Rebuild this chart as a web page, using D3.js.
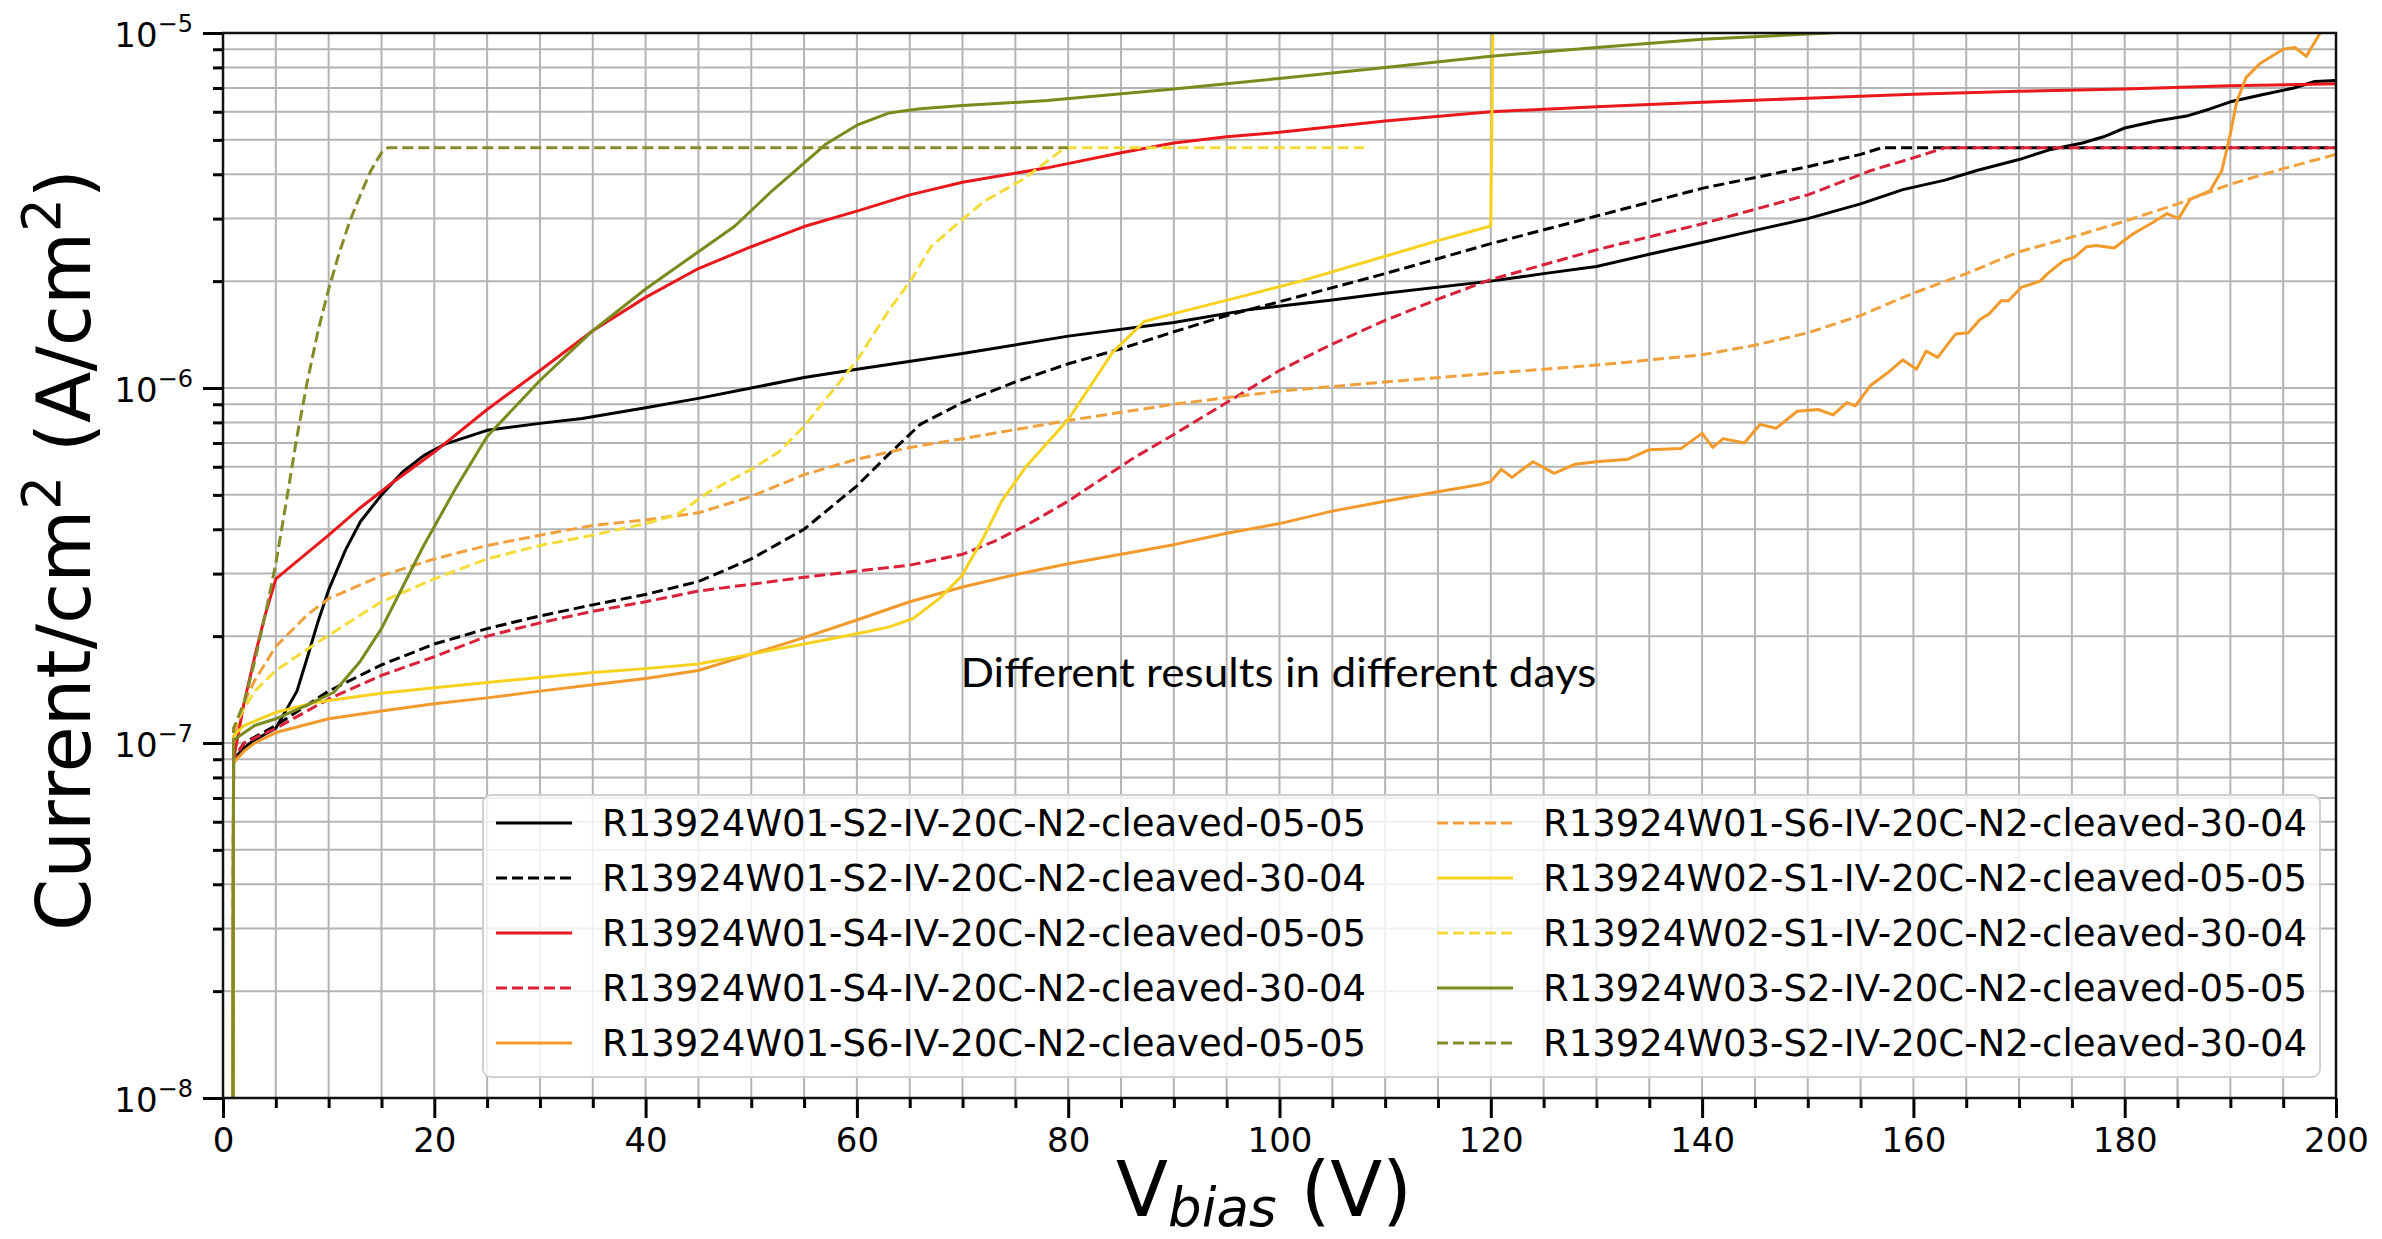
<!DOCTYPE html>
<html>
<head>
<meta charset="utf-8">
<script src="https://cdn.jsdelivr.net/npm/d3@7"></script>
<style>
  body { margin: 0; background: #fff; }
  text { white-space: pre; }
</style>
</head>
<body>
<div id="iv_plot"></div>
<script>
// leakage current density vs bias: [V, A/cm2]
var seriesLabels = [
    'R13924W01-S2-IV-20C-N2-cleaved-05-05',
    'R13924W01-S2-IV-20C-N2-cleaved-30-04',
    'R13924W01-S4-IV-20C-N2-cleaved-05-05',
    'R13924W01-S4-IV-20C-N2-cleaved-30-04',
    'R13924W01-S6-IV-20C-N2-cleaved-05-05',
    'R13924W01-S6-IV-20C-N2-cleaved-30-04',
    'R13924W02-S1-IV-20C-N2-cleaved-05-05',
    'R13924W02-S1-IV-20C-N2-cleaved-30-04',
    'R13924W03-S2-IV-20C-N2-cleaved-05-05',
    'R13924W03-S2-IV-20C-N2-cleaved-30-04'
];

var w01s2_0505 = [[0.9,1e-9],[1.0,9.0e-8],[2,9.7e-8],[3,1.02e-7],[5,1.1e-7],[7,1.4e-7],[8,1.75e-7],[9,2.2e-7],[10,2.7e-7],[11.6,3.5e-7],[13,4.2e-7],[15,5.0e-7],[17,5.8e-7],[19,6.45e-7],[21,6.95e-7],[25,7.6e-7],[30,7.95e-7],[34,8.2e-7],[40,8.8e-7],[45,9.35e-7],[50,1.0e-6],[55,1.07e-6],[60,1.13e-6],[70,1.25e-6],[80,1.4e-6],[90,1.53e-6],[97,1.66e-6],[105,1.77e-6],[110,1.85e-6],[120,2.0e-6],[125,2.1e-6],[130,2.2e-6],[135,2.38e-6],[140,2.57e-6],[145,2.78e-6],[150,3.0e-6],[155,3.3e-6],[159,3.62e-6],[163,3.85e-6],[166,4.1e-6],[170,4.4e-6],[173,4.7e-6],[176,4.9e-6],[178,5.1e-6],[180,5.4e-6],[183,5.65e-6],[186,5.85e-6],[188,6.1e-6],[190,6.4e-6],[193,6.7e-6],[196,7.0e-6],[198,7.3e-6],[200,7.35e-6]];
var w01s2_3004 = [[0.9,1e-9],[1.0,9.0e-8],[2,1.0e-7],[5,1.12e-7],[10,1.4e-7],[15,1.66e-7],[20,1.9e-7],[25,2.1e-7],[30,2.28e-7],[35,2.45e-7],[40,2.62e-7],[45,2.85e-7],[50,3.3e-7],[55,4.0e-7],[60,5.3e-7],[63,6.5e-7],[66,7.9e-7],[70,9.1e-7],[75,1.04e-6],[80,1.17e-6],[85,1.29e-6],[90,1.44e-6],[95,1.6e-6],[100,1.75e-6],[110,2.1e-6],[120,2.55e-6],[130,3.05e-6],[140,3.65e-6],[150,4.2e-6],[155,4.55e-6],[157,4.75e-6],[200,4.75e-6]];
var w01s4_0505 = [[0.9,1e-9],[1.0,9.0e-8],[2,1.3e-7],[3,1.75e-7],[4,2.3e-7],[5,2.9e-7],[7,3.25e-7],[10,3.85e-7],[13,4.6e-7],[16,5.4e-7],[20,6.6e-7],[25,8.7e-7],[30,1.12e-6],[35,1.45e-6],[40,1.8e-6],[45,2.17e-6],[50,2.5e-6],[55,2.85e-6],[60,3.15e-6],[65,3.5e-6],[70,3.8e-6],[78,4.17e-6],[85,4.6e-6],[90,4.9e-6],[95,5.1e-6],[100,5.25e-6],[110,5.65e-6],[120,6.0e-6],[130,6.2e-6],[140,6.38e-6],[150,6.55e-6],[160,6.72e-6],[170,6.85e-6],[180,6.95e-6],[190,7.1e-6],[200,7.2e-6]];
var w01s4_3004 = [[0.9,1e-9],[1.0,9.0e-8],[2,1.0e-7],[5,1.1e-7],[10,1.33e-7],[15,1.55e-7],[20,1.75e-7],[25,2.0e-7],[30,2.18e-7],[35,2.35e-7],[40,2.5e-7],[45,2.68e-7],[50,2.8e-7],[55,2.93e-7],[60,3.05e-7],[65,3.17e-7],[70,3.4e-7],[73,3.7e-7],[76,4.1e-7],[80,4.8e-7],[83,5.5e-7],[86,6.3e-7],[90,7.4e-7],[95,9.1e-7],[100,1.12e-6],[105,1.33e-6],[110,1.55e-6],[115,1.78e-6],[120,2.02e-6],[130,2.45e-6],[140,2.9e-6],[150,3.5e-6],[156,4.1e-6],[160,4.45e-6],[163,4.75e-6],[200,4.75e-6]];
var w01s6_0505 = [[0.9,1e-9],[1.0,8.8e-8],[2,9.5e-8],[3,1.0e-7],[5,1.07e-7],[10,1.17e-7],[15,1.23e-7],[20,1.29e-7],[25,1.34e-7],[30,1.4e-7],[35,1.46e-7],[40,1.52e-7],[45,1.6e-7],[50,1.78e-7],[55,1.98e-7],[60,2.22e-7],[65,2.5e-7],[70,2.75e-7],[75,2.98e-7],[80,3.2e-7],[85,3.4e-7],[90,3.62e-7],[95,3.9e-7],[100,4.15e-7],[105,4.5e-7],[110,4.8e-7],[115,5.1e-7],[119,5.35e-7],[120,5.45e-7],[121,5.9e-7],[122,5.6e-7],[124,6.2e-7],[126,5.75e-7],[128,6.1e-7],[130,6.2e-7],[133,6.3e-7],[135,6.7e-7],[138,6.75e-7],[140,7.45e-7],[141,6.8e-7],[142,7.2e-7],[144,7.0e-7],[145.5,7.9e-7],[147,7.7e-7],[149,8.6e-7],[151,8.7e-7],[152.4,8.4e-7],[153.7,9.1e-7],[154.5,8.9e-7],[156,1.02e-6],[157.5,1.1e-6],[159,1.2e-6],[160.3,1.13e-6],[161.2,1.27e-6],[162.3,1.22e-6],[164,1.42e-6],[165.2,1.43e-6],[166.3,1.56e-6],[167.2,1.62e-6],[168.3,1.76e-6],[169,1.76e-6],[170.2,1.92e-6],[172,2.0e-6],[172.7,2.1e-6],[174.2,2.28e-6],[175.2,2.33e-6],[176.4,2.5e-6],[177.3,2.52e-6],[179,2.48e-6],[180.8,2.72e-6],[182.7,2.93e-6],[184,3.1e-6],[185.1,3.0e-6],[186.2,3.4e-6],[188.1,3.6e-6],[189.2,4.1e-6],[190,5.2e-6],[190.6,6.4e-6],[191.5,7.5e-6],[192.8,8.2e-6],[195,9.0e-6],[196.1,9.1e-6],[197.2,8.6e-6],[198.5,1.0e-5],[200,1.15e-5]];
var w01s6_3004 = [[0.9,1e-9],[1.0,1.05e-7],[2,1.3e-7],[3,1.5e-7],[5,1.87e-7],[8,2.3e-7],[10,2.55e-7],[15,2.96e-7],[20,3.3e-7],[25,3.6e-7],[30,3.85e-7],[35,4.1e-7],[40,4.25e-7],[45,4.45e-7],[50,4.95e-7],[55,5.7e-7],[60,6.3e-7],[65,6.8e-7],[70,7.2e-7],[80,8.1e-7],[90,9.0e-7],[100,9.8e-7],[110,1.04e-6],[120,1.1e-6],[130,1.16e-6],[140,1.24e-6],[145,1.32e-6],[150,1.43e-6],[155,1.6e-6],[160,1.85e-6],[165,2.1e-6],[170,2.42e-6],[175,2.66e-6],[180,2.95e-6],[185,3.3e-6],[190,3.75e-6],[195,4.15e-6],[200,4.55e-6]];
var w02s1_0505 = [[0.9,1e-9],[1.0,1.05e-7],[2,1.12e-7],[5,1.22e-7],[8.7,1.3e-7],[15,1.38e-7],[20,1.43e-7],[25,1.48e-7],[30,1.53e-7],[35,1.58e-7],[40,1.62e-7],[45,1.67e-7],[50,1.78e-7],[55,1.9e-7],[60,2.03e-7],[63,2.12e-7],[65.3,2.24e-7],[67.8,2.55e-7],[69.9,2.95e-7],[72,3.8e-7],[73.7,4.8e-7],[76,6.0e-7],[80,8.15e-7],[84.2,1.26e-6],[87.2,1.54e-6],[90,1.62e-6],[97,1.83e-6],[102,2.0e-6],[110,2.35e-6],[115,2.6e-6],[120,2.86e-6],[120.3,2e-5]];
var w02s1_3004 = [[0.9,1e-9],[1.0,1.1e-7],[2,1.25e-7],[3,1.4e-7],[5,1.6e-7],[8.7,1.9e-7],[15,2.5e-7],[20,2.9e-7],[25,3.3e-7],[30,3.6e-7],[35,3.85e-7],[40,4.15e-7],[43,4.4e-7],[46,5.1e-7],[50,5.9e-7],[52.6,6.6e-7],[55,7.8e-7],[56.8,9.1e-7],[58.5,1.05e-6],[60.2,1.22e-6],[63,1.65e-6],[65.3,2.05e-6],[67,2.5e-6],[69.5,2.9e-6],[72,3.35e-6],[75.8,3.88e-6],[78,4.35e-6],[79.7,4.75e-6],[108,4.75e-6]];
var w03s2_0505 = [[0.9,1e-9],[1.0,1.02e-7],[3,1.12e-7],[5,1.17e-7],[8,1.28e-7],[10.5,1.39e-7],[13,1.7e-7],[15,2.1e-7],[17,2.75e-7],[19,3.6e-7],[22,5.2e-7],[25,7.3e-7],[30,1.05e-6],[35,1.45e-6],[40,1.9e-6],[45,2.42e-6],[48.4,2.85e-6],[52,3.6e-6],[55,4.3e-6],[57,4.85e-6],[60,5.5e-6],[63,5.95e-6],[66,6.12e-6],[70,6.25e-6],[78,6.45e-6],[90,6.95e-6],[100,7.45e-6],[110,8.0e-6],[120,8.6e-6],[130,9.1e-6],[140,9.6e-6],[152,1.0e-5],[160,1.04e-5],[200,1.2e-5]];
var w03s2_3004 = [[0.9,1e-9],[1.0,1.1e-7],[2,1.3e-7],[3,1.7e-7],[4,2.3e-7],[5,3.2e-7],[6,4.8e-7],[7,7.3e-7],[8,1.05e-6],[9,1.45e-6],[10,1.9e-6],[11,2.4e-6],[12,2.95e-6],[13,3.5e-6],[14,4.1e-6],[15,4.6e-6],[15.6,4.75e-6],[80,4.75e-6]];

var xMajorTicks = [0, 20, 40, 60, 80, 100, 120, 140, 160, 180, 200];
var yMajorTicks = [1e-8, 1e-7, 1e-6, 1e-5];
var yTickExponents = ['\u22128', '\u22127', '\u22126', '\u22125'];
var annotation = 'Different results in different days';

(function(){

    var width = 2382;
    var height = 1239;

    var margin = {
        top: 33,
        bottom: 141,
        left: 223,
        right: 46
    };

    var svg = d3.select('#iv_plot')
        .append('svg')
            .attr('width', width)
            .attr('height', height)
            .style('font-family', '"DejaVu Sans", sans-serif');

    var plotW = width - margin.left - margin.right;
    var plotH = height - margin.top - margin.bottom;

    var xScale = d3.scaleLinear()
        .domain([0, 200])
        .range([0, plotW]);

    var yScale = d3.scaleLog()
        .domain([1e-8, 1e-5])
        .range([plotH, 0]);

    // minor ticks: every 5 V, 2..9 per decade
    var xMinor = d3.range(0, 201, 5).filter(function(v){ return v % 20 !== 0; });
    var yMinor = [];
    yMajorTicks.slice(0, 3).forEach(function(dec){
        for (var k = 2; k < 10; k++) yMinor.push(dec * k);
    });

    var plot = svg.append('g')
        .attr('transform', 'translate(' + margin.left + ',' + margin.top + ')');

    plot.append('defs').append('clipPath')
        .attr('id', 'plot-clip')
        .append('rect')
        .attr('width', plotW)
        .attr('height', plotH);

    // grid
    var grid = plot.append('g').attr('class', 'grid');
    grid.selectAll('.vgrid')
        .data(xMajorTicks.concat(xMinor))
        .enter()
        .append('line')
        .attr('x1', function(d){ return xScale(d); })
        .attr('x2', function(d){ return xScale(d); })
        .attr('y1', 0)
        .attr('y2', plotH)
        .attr('stroke', '#b4b4b4')
        .attr('stroke-width', 2);
    grid.selectAll('.hgrid')
        .data(yMajorTicks.concat(yMinor))
        .enter()
        .append('line')
        .attr('x1', 0)
        .attr('x2', plotW)
        .attr('y1', function(d){ return yScale(d); })
        .attr('y2', function(d){ return yScale(d); })
        .attr('stroke', '#b4b4b4')
        .attr('stroke-width', 2);

    var curves = [
        {data: w01s2_0505, color: '#000000', dashed: false},
        {data: w01s2_3004, color: '#000000', dashed: true},
        {data: w01s4_0505, color: '#e8181c', dashed: false},
        {data: w01s4_3004, color: '#d9213a', dashed: true},
        {data: w01s6_0505, color: '#f39a2c', dashed: false},
        {data: w01s6_3004, color: '#f0a03c', dashed: true},
        {data: w02s1_0505, color: '#f6d21e', dashed: false},
        {data: w02s1_3004, color: '#f4dc38', dashed: true},
        {data: w03s2_0505, color: '#7b8a1c', dashed: false},
        {data: w03s2_3004, color: '#858b28', dashed: true}
    ];
    curves.forEach(function(c, i){ c.label = seriesLabels[i]; });

    var line = d3.line()
        .x(function(d){ return xScale(d[0]); })
        .y(function(d){ return yScale(d[1]); });

    plot.append('g')
        .attr('clip-path', 'url(#plot-clip)')
        .selectAll('path.curve')
        .data(curves)
        .enter()
        .append('path')
        .attr('class', 'curve')
        .attr('d', function(d){ return line(d.data); })
        .attr('fill', 'none')
        .attr('stroke', function(d){ return d.color; })
        .attr('stroke-width', 3)
        .attr('stroke-linejoin', 'round')
        .attr('stroke-dasharray', function(d){ return d.dashed ? '11,5' : null; });

    // axes
    var xAxisMajor = d3.axisBottom(xScale)
        .tickValues(xMajorTicks)
        .tickSize(20)
        .tickPadding(10)
        .tickFormat(d3.format('d'));
    var xAxisMinor = d3.axisBottom(xScale)
        .tickValues(xMinor)
        .tickSize(10)
        .tickFormat('');
    var yAxisMajor = d3.axisLeft(yScale)
        .tickValues(yMajorTicks)
        .tickSize(20)
        .tickFormat('');
    var yAxisMinor = d3.axisLeft(yScale)
        .tickValues(yMinor)
        .tickSize(10)
        .tickFormat('');

    [xAxisMinor, xAxisMajor].forEach(function(ax){
        plot.append('g')
            .attr('class', 'x axis')
            .attr('transform', 'translate(0,' + plotH + ')')
            .call(ax);
    });
    [yAxisMinor, yAxisMajor].forEach(function(ax){
        plot.append('g')
            .attr('class', 'y axis')
            .call(ax);
    });

    plot.selectAll('.axis .domain').remove();
    plot.selectAll('.axis .tick line')
        .attr('stroke', '#000')
        .attr('stroke-width', 3);
    plot.selectAll('.x.axis .tick text')
        .attr('font-family', '"DejaVu Sans", sans-serif')
        .attr('font-size', '34px')
        .attr('fill', '#000');

    // y tick labels as 10^n
    var ylabels = plot.append('g').attr('class', 'ylabels');
    ylabels.selectAll('text')
        .data(yMajorTicks)
        .enter()
        .append('text')
        .attr('x', -30)
        .attr('y', function(d){ return yScale(d) + 14; })
        .attr('text-anchor', 'end')
        .attr('font-size', '34px')
        .each(function(d, i){
            var t = d3.select(this);
            t.append('tspan').text('10');
            t.append('tspan')
                .attr('dy', -15)
                .attr('font-size', '24px')
                .text(yTickExponents[i]);
        });

    // frame
    plot.append('rect')
        .attr('width', plotW)
        .attr('height', plotH)
        .attr('fill', 'none')
        .attr('stroke', '#111')
        .attr('stroke-width', 2.5);

    // annotation
    plot.append('text')
        .attr('x', xScale(69.8))
        .attr('y', 687 - margin.top)
        .attr('font-family', 'Lato, "Open Sans", sans-serif')
        .attr('font-size', '40px')
        .attr('textLength', 636)
        .attr('lengthAdjust', 'spacingAndGlyphs')
        .attr('fill', '#000')
        .text(annotation);

    // legend
    var legend = svg.append('g').attr('class', 'legend');
    legend.append('rect')
        .attr('x', 483)
        .attr('y', 795)
        .attr('width', 1837)
        .attr('height', 282)
        .attr('rx', 8)
        .attr('fill', 'rgba(255,255,255,0.8)')
        .attr('stroke', '#d0d0d0')
        .attr('stroke-width', 2);

    var rows = legend.selectAll('.row')
        .data(curves)
        .enter()
        .append('g')
        .attr('class', 'row')
        .attr('transform', function(d, i){
            var col = i < 5 ? 0 : 1;
            return 'translate(' + (col ? 1437 : 496) + ',' + (823 + (i % 5) * 55) + ')';
        });
    rows.append('line')
        .attr('x1', 0)
        .attr('x2', 76)
        .attr('stroke', function(d){ return d.color; })
        .attr('stroke-width', 3)
        .attr('stroke-dasharray', function(d){ return d.dashed ? '11,5' : null; });
    rows.append('text')
        .attr('x', 106)
        .attr('y', 13)
        .attr('font-size', '37px')
        .attr('fill', '#000')
        .text(function(d){ return d.label; });

    // axis labels
    var ylab = svg.append('text')
        .attr('transform', 'translate(90,550) rotate(-90)')
        .attr('text-anchor', 'middle')
        .attr('font-size', '75px');
    ylab.append('tspan').text('Current/cm');
    ylab.append('tspan').attr('dy', -30).attr('font-size', '53px').text('2');
    ylab.append('tspan').attr('dy', 30).text(' (A/cm');
    ylab.append('tspan').attr('dy', -30).attr('font-size', '53px').text('2');
    ylab.append('tspan').attr('dy', 30).text(')');

    var xlab = svg.append('text')
        .attr('x', 1264)
        .attr('y', 1216)
        .attr('text-anchor', 'middle')
        .attr('font-size', '76px');
    xlab.append('tspan').text('V');
    xlab.append('tspan').attr('dy', 10).attr('font-size', '53px').attr('font-style', 'italic').text('bias');
    xlab.append('tspan').attr('dy', -10).text(' (V)');

})();
</script>
</body>
</html>
